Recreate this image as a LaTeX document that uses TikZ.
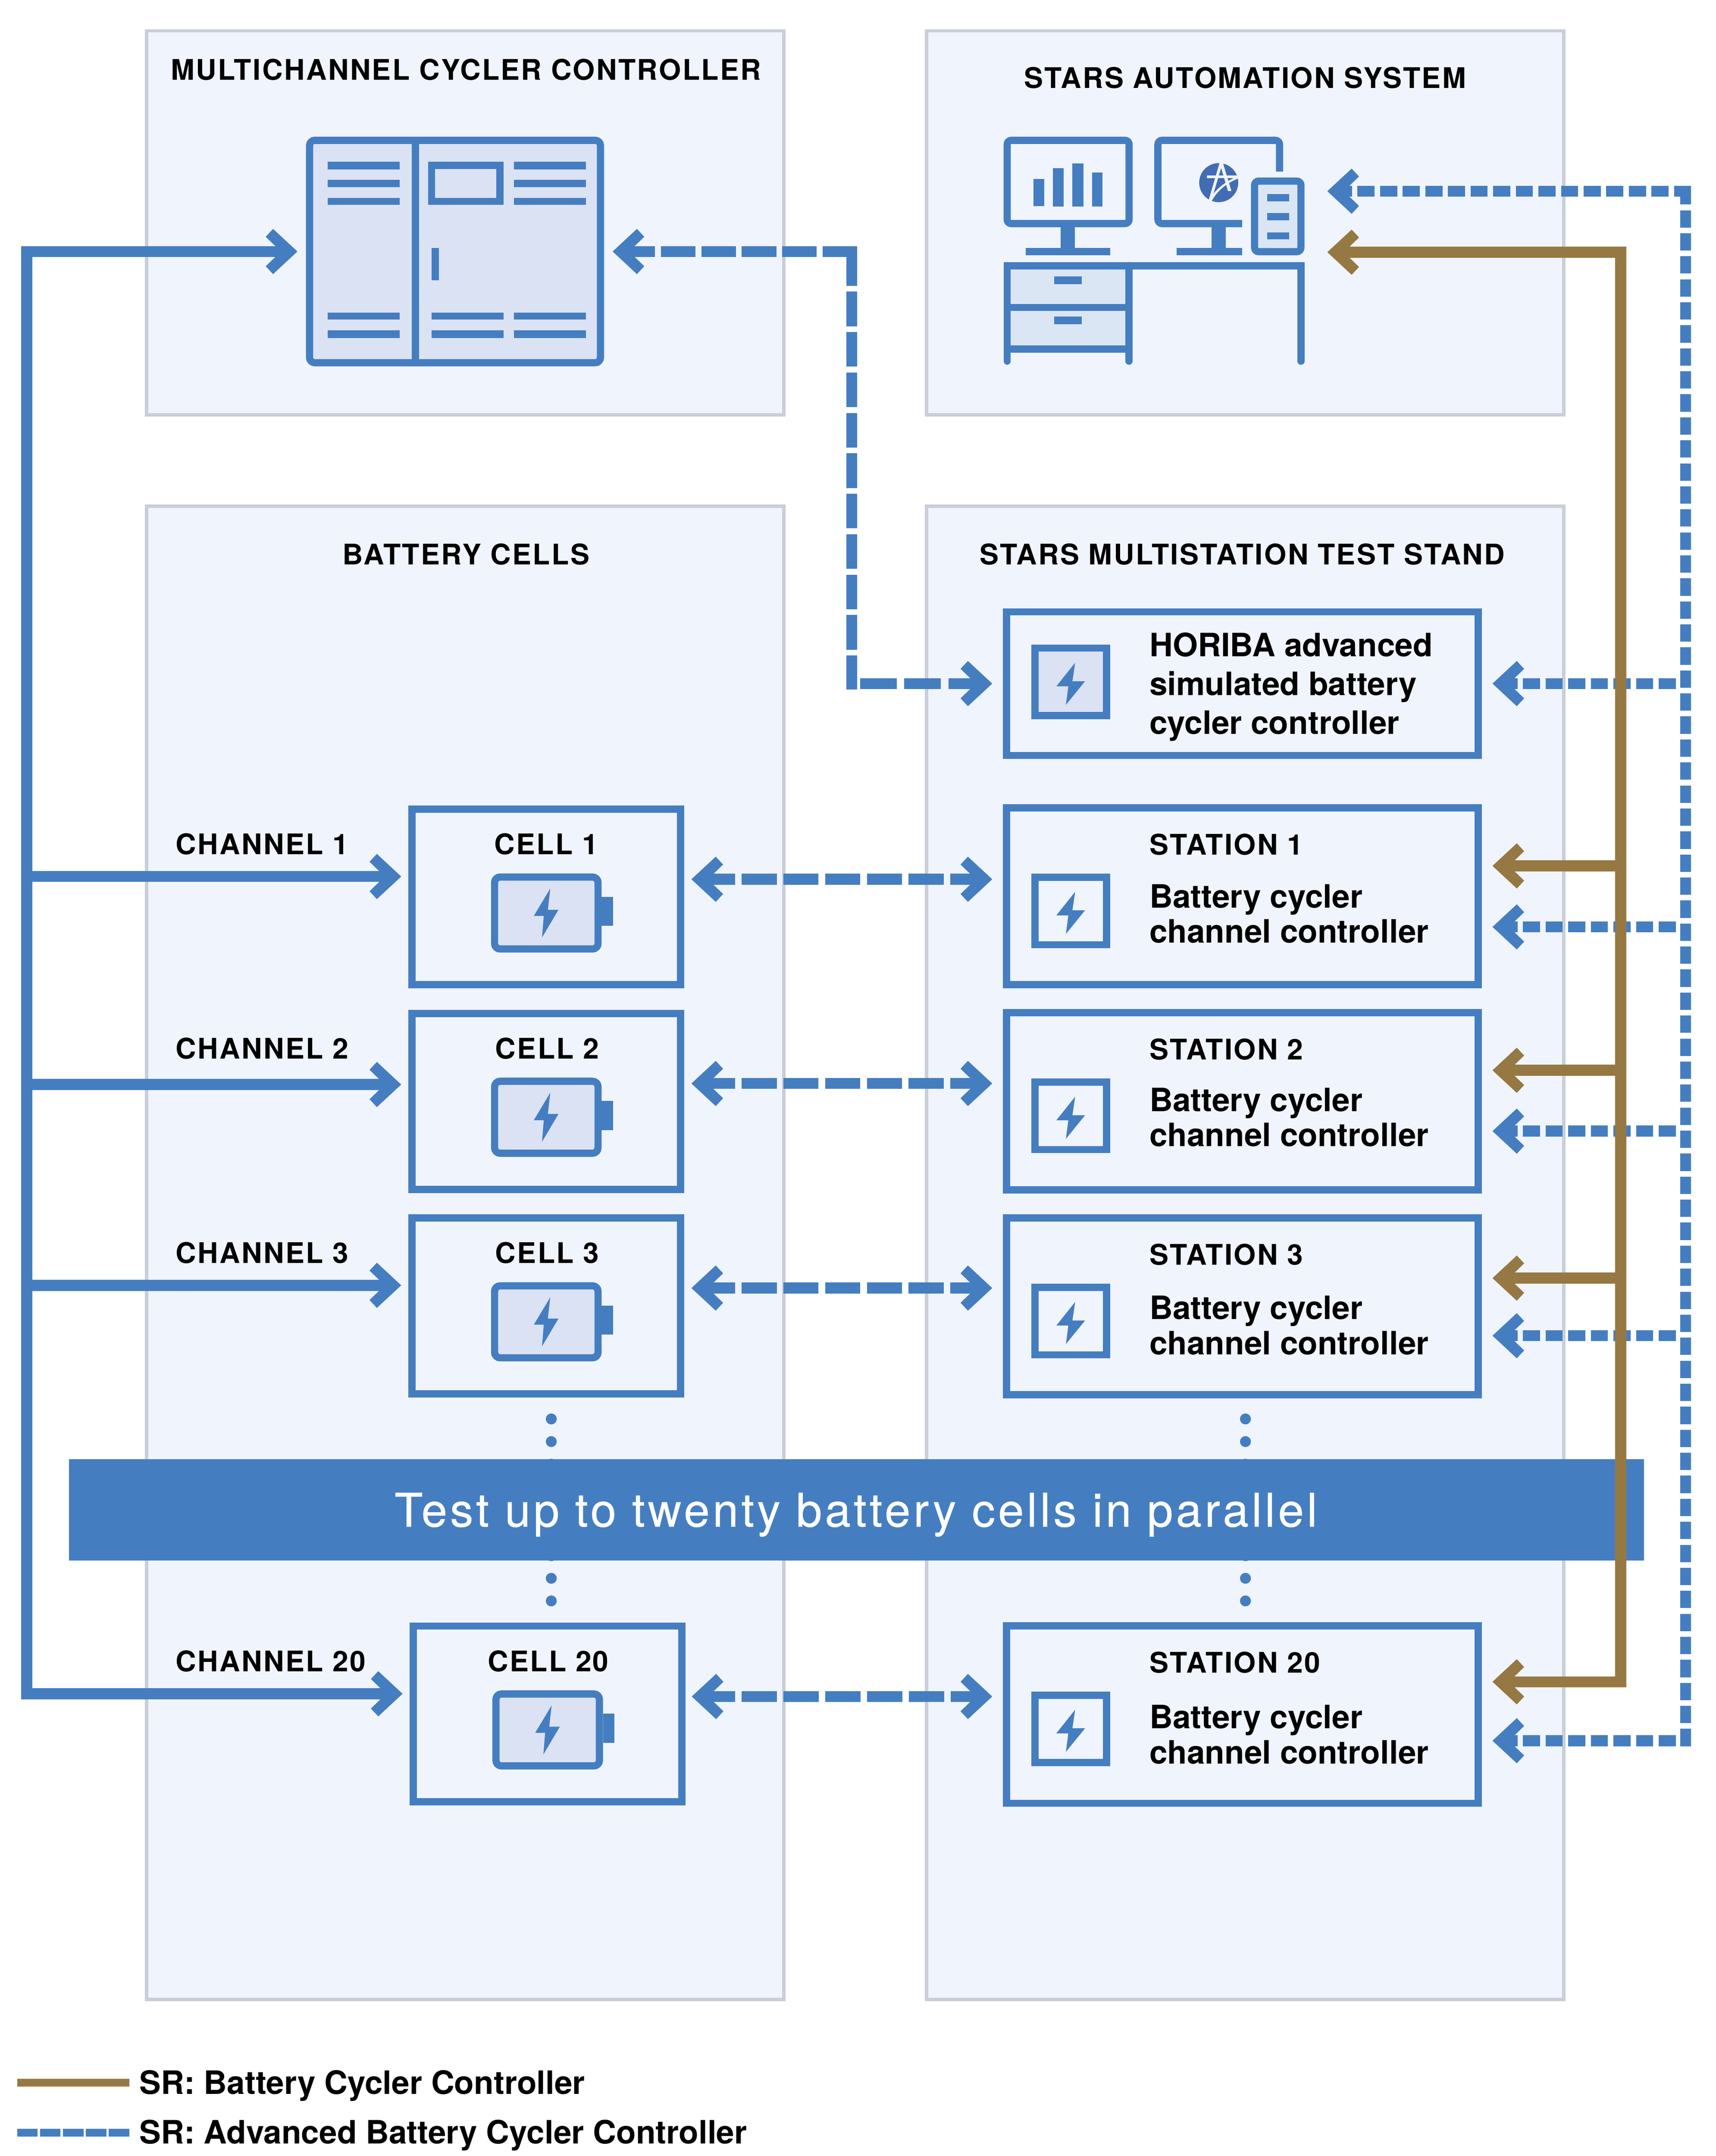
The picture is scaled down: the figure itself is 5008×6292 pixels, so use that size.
\documentclass[tikz,border=0pt]{standalone}
\usepackage{fontspec}
\setmainfont{TeX Gyre Heros}
\newfontfamily\capsfam[LetterSpace=5]{TeX Gyre Heros}
\newfontfamily\banfam[LetterSpace=6.5,FakeBold=0.6]{TeX Gyre Heros}
\usetikzlibrary{arrows.meta}
\definecolor{cblue}{HTML}{457EC0}
\definecolor{cbrown}{HTML}{967942}
\definecolor{cpanel}{HTML}{F0F4FC}
\definecolor{cedge}{HTML}{C9CED9}
\definecolor{cicon}{HTML}{DBE2F3}
\definecolor{cdesk}{HTML}{DBE6F5}
\definecolor{clogo}{HTML}{426CB4}
\pgfdeclarearrow{
  name=Chev,
  setup code={
    \pgfarrowssettipend{0pt}
    \pgfarrowssetlineend{-45pt}
    \pgfarrowssetvisualbackend{-60pt}
    \pgfarrowssetbackend{-92.5pt}
  },
  drawing code={
    \pgfpathmoveto{\pgfqpoint{0pt}{0pt}}
    \pgfpathlineto{\pgfqpoint{-71pt}{66pt}}
    \pgfpathlineto{\pgfqpoint{-92.5pt}{43pt}}
    \pgfpathlineto{\pgfqpoint{-48pt}{0pt}}
    \pgfpathlineto{\pgfqpoint{-92.5pt}{-43pt}}
    \pgfpathlineto{\pgfqpoint{-71pt}{-66pt}}
    \pgfpathclose
    \pgfusepathqfill
  }
}
\tikzset{
  panelbox/.style={draw=cedge,fill=cpanel,line width=10pt,inner sep=0pt,outer sep=0pt},
  unitbox/.style={draw=cblue,line width=21pt,inner sep=0pt,outer sep=0pt},
  iconbox/.style={draw=cblue,line width=21pt,inner sep=0pt,outer sep=0pt,fill=cicon},
  title/.style={font=\capsfam\bfseries\fontsize{83pt}{83pt}\selectfont,anchor=base,inner sep=0pt,outer sep=0pt},
  capl/.style={font=\capsfam\bfseries\fontsize{83pt}{83pt}\selectfont,anchor=base west,inner sep=0pt,outer sep=0pt},
  body/.style={font=\bfseries\fontsize{94pt}{94pt}\selectfont,anchor=base west,inner sep=0pt,outer sep=0pt},
  solidblue/.style={draw=cblue,line width=32pt,line join=miter},
  solidbrown/.style={draw=cbrown,line width=32pt,line join=miter},
  bigdash/.style={draw=cblue,line width=32pt,dash pattern=on 103pt off 19pt},
  smalldash/.style={draw=cblue,line width=32pt,dash pattern=on 50pt off 16pt}
}
\newcommand{\bk}[4]{\fill[cblue] (#1,#2) rectangle (#3,#4);}
\begin{document}
\begin{tikzpicture}[x=1pt,y=-1pt]
\useasboundingbox (0,0) rectangle (5008,6292);
\fill[white] (0,0) rectangle (5008,6292);

% panels
\node[panelbox,minimum width=1860pt,minimum height=1120pt] (panA) at (1358,650) {};
\node[panelbox,minimum width=1860pt,minimum height=1120pt] (panB) at (3634,650) {};
\node[panelbox,minimum width=1860pt,minimum height=4358pt] (panC) at (1358,3656) {};
\node[panelbox,minimum width=1860pt,minimum height=4358pt] (panD) at (3634,3656) {};
\node[title] (tA) at (1360,233) {MULTICHANNEL CYCLER CONTROLLER};
\node[title] (tB) at (3634,257) {STARS AUTOMATION SYSTEM};
\node[title] (tC) at (1360,1648) {BATTERY CELLS};
\node[title] (tD) at (3626,1648) {STARS MULTISTATION TEST STAND};

% cabinet icon
\node[iconbox,rounded corners=15pt,minimum width=849pt,minimum height=649pt] (cabinet) at (1328,734) {};
\bk{1202}{400}{1223}{1068}
\foreach \yy/\yb in {472/494,524.5/546,577/598,912/933,964.5/986}{
  \bk{956}{\yy}{1166.5}{\yb}
  \bk{1500.5}{\yy}{1710}{\yb}
}
\foreach \yy/\yb in {912/933,964.5/986}{ \bk{1260}{\yy}{1470}{\yb} }
\draw[cblue,line width=21pt] (1259.5,482.5) rectangle (1459.5,587.5);
\bk{1260}{723}{1281}{818}

% desk icon
\draw[cblue,line width=21pt,rounded corners=12pt] (2939.5,409.5) rectangle (3295.5,652.5);
\bk{3096}{660}{3137.5}{723}
\bk{2994}{723}{3240}{745}
\bk{3016}{522}{3048}{601}
\bk{3073}{491}{3105}{602.5}
\bk{3130}{477}{3162}{602.5}
\bk{3187}{503}{3218}{602.5}
\draw[cblue,line width=21pt,rounded corners=12pt] (3379.5,409.5) rectangle (3734.5,652.5);
\bk{3536}{660}{3577}{723}
\bk{3434}{723}{3740}{745}
% logo
\fill[clogo] (3557,533) circle[radius=57pt];
\begin{scope}[shift={(3450,440)},x=0.3333pt,y=-0.3333pt]
  \fill[cpanel] (330,100) -- (356,100) -- (432,352) -- (402,352) -- (342,150) -- (275,375) -- (258,442) -- (233,432) -- cycle;
  \fill[cpanel] (218,216) -- (490,216) -- (495,238) -- (218,240) -- cycle;
  \fill[cpanel] (275,375) .. controls (330,310) and (400,260) .. (490,222) -- (496,240) .. controls (410,275) and (320,330) .. (258,442) -- (233,432) -- cycle;
\end{scope}
% tablet
\fill[cpanel] (3626,501) rectangle (3830,760);
\draw[draw=cblue,fill=cdesk,line width=21pt,rounded corners=12pt] (3661.5,528.5) rectangle (3797,734.5);
\bk{3698}{566}{3762}{588}
\bk{3698}{622}{3762}{643}
\bk{3698}{678}{3762}{699}
% desk
\fill[cdesk] (2950,787) rectangle (3284,1008);
\bk{2929}{765}{3807.5}{787}
\bk{2929}{887}{3306}{907}
\bk{2929}{1008}{3306}{1029}
\draw[cblue,line width=21pt,line cap=round] (2939.5,775) -- (2939.5,1054);
\draw[cblue,line width=21pt,line cap=round] (3295,775) -- (3295,1054);
\draw[cblue,line width=21pt,line cap=round] (3797,775) -- (3797,1054);
\bk{3077}{807}{3157}{829}
\bk{3077}{924}{3157}{946}

% battery cells
\coordinate (busL) at (78,734);
\foreach \n/\xx/\tp/\hh/\chy/\lky/\cx/\dt in {1/1192/2351/533/2558/2566/1594/31.5,2/1192/2947/535/3165/3162/1597/31.5,3/1192/3544/534/3751/3759/1597/31.5,20/1196/4735/534/4943/4951/1600/28.5}{
  \begin{scope}[shift={(\xx,\tp)}]
    \pgfmathsetmacro{\ww}{805-21}
    \pgfmathsetmacro{\mh}{\hh-21}
    \pgfmathsetmacro{\my}{\hh/2}
    \node[unitbox,minimum width=\ww pt,minimum height=\mh pt] (cell\n) at (402.5,\my) {};
    \bk{564}{266}{597}{351}
    \draw[draw=cblue,fill=cicon,line width=21pt,rounded corners=16pt] (251.5,208.5) rectangle (553.5,418.5);
    \fill[cblue] (414,242) -- (366,322) -- (395,322) -- (390,385) -- (438,304) -- (407,304) -- cycle;
  \end{scope}
  \node[title] (cellt\n) at (\cx,\tp+143) {CELL \n};
  \node[capl] (chan\n) at (513,\tp+143) {CHANNEL \n};
  \coordinate (chy\n) at (0,\chy);
  \coordinate (lky\n) at (0,\lky);
  \coordinate (chtip\n) at ([xshift=-31.5pt]cell\n.west);
  \coordinate (lktipa\n) at ([xshift=\dt pt]cell\n.east);
}

% stations
\node[unitbox,minimum width=1377pt,minimum height=419pt] (horiba) at (3626,1995) {};
\node[iconbox,minimum width=209pt,minimum height=197pt] (hicon) at (3125,1990) {};
\fill[cblue] (3138,1934) -- (3083,2003) -- (3118,2003) -- (3111,2057) -- (3167,1988) -- (3130,1988) -- cycle;
\node[body] (h1) at (3355,1916) {HORIBA advanced};
\node[body] (h2) at (3355,2029) {simulated battery};
\node[body] (h3) at (3355,2142) {cycler controller};

\foreach \n/\tp/\hh/\bry/\bly/\dy in {1/2347/537/2527/2705/302,2/2945/538/3123.5/3301/298,3/3544/537/3730/3898/306,20/4734/539/4908/5080/310}{
  \begin{scope}[shift={(2925,\tp)}]
    \pgfmathsetmacro{\mh}{\hh-21}
    \pgfmathsetmacro{\my}{\hh/2}
    \node[unitbox,minimum width=1377pt,minimum height=\mh pt] (stat\n) at (701,\my) {};
    \node[unitbox,minimum width=209pt,minimum height=197pt] (sicon\n) at (200,311.5) {};
    \fill[cblue] (213,255.5) -- (158,324.5) -- (193,324.5) -- (186,378.5) -- (242,309.5) -- (205,309.5) -- cycle;
  \end{scope}
  \node[capl] (stl\n) at (3355,\tp+148) {STATION \n};
  \node[body] (sta\n) at (3355,\tp+\dy) {Battery cycler};
  \node[body] (stb\n) at (3355,\tp+\dy+103) {channel controller};
  \coordinate (bry\n) at (0,\bry);
  \coordinate (bly\n) at (0,\bly);
  \coordinate (wtip\n) at ([xshift=-41.5pt]stat\n.west);
  \coordinate (etip\n) at ([xshift=41.5pt]stat\n.east);
}
\coordinate (hwest) at ([xshift=-41.5pt]horiba.west);
\coordinate (heast) at ([xshift=41.5pt]horiba.east);
\coordinate (hy) at (0,1995);

% solid blue bus and channels
\draw[solidblue,{Chev}-{Chev}] (chtip20 |- chy20) -- (busL |- chy20) -- (busL) -- ([xshift=-35.5pt]cabinet.west);
\foreach \n in {1,2,3}{
  \draw[solidblue,-{Chev}] (busL |- chy\n) -- (chtip\n |- chy\n);
}
% cell to station links
\foreach \n in {1,2,3,20}{
  \draw[bigdash,dash phase=21pt,{Chev}-{Chev}] (lktipa\n |- lky\n) -- (wtip\n |- lky\n);
}
% cabinet to HORIBA, advanced controller
\coordinate (cabE) at ([xshift=35.5pt]cabinet.east);
\coordinate (corA) at (2502,734);
\coordinate (corB) at (2486,733);
\coordinate (corC) at (2486,2012);
\coordinate (corD) at (2510,1995);
\draw[draw=cblue,line width=32pt,dash pattern=on 101pt off 17pt,-{Chev}] (corA) -- (cabE);
\draw[draw=cblue,line width=32pt,dash pattern=on 101pt off 17pt] (corB) -- (corC);
\draw[draw=cblue,line width=32pt,dash pattern=on 107pt off 22pt,-{Chev}] (corD) -- (hwest |- hy);

% right dashed bus
\coordinate (deskB) at (3874,558);
\coordinate (deskC) at (3874,736);
\coordinate (bR) at (4920,5096);
\coordinate (bRt) at (4920,546);
\coordinate (bRc) at (4936,558);
\coordinate (bRh) at (4891,0);
\draw[draw=cblue,line width=32pt,dash pattern=on 50.6pt off 16.55pt] (bR) -- (bRt);
\draw[smalldash,-{Chev}] (bRc) -- (deskB);
\draw[smalldash,-{Chev}] (bRh |- hy) -- (heast |- hy);
\foreach \n in {1,2,3,20}{
  \draw[smalldash,-{Chev}] (bRh |- bly\n) -- (etip\n |- bly\n);
}

% dots and banner
\foreach \yy in {4141,4207,4273,4540,4606,4672}{
  \fill[cblue] (1609,\yy) circle[radius=16pt];
  \fill[cblue] (3635,\yy) circle[radius=16pt];
}
\node[fill=cblue,inner sep=0pt,outer sep=0pt,minimum width=4597pt,minimum height=295pt] (banner) at (2499.5,4406.5) {};
\node[font=\banfam\fontsize{135pt}{135pt}\selectfont,text=white,anchor=base,inner sep=0pt] (bantext) at (2498,4455) {Test up to twenty battery cells in parallel};

% brown bus
\coordinate (brT) at (4730,736);
\coordinate (brB) at (4730,4908);
\draw[solidbrown,{Chev}-{Chev}] (etip20 |- brB) -- (brB) -- (brT) -- (deskC);
\foreach \n in {1,2,3}{
  \draw[solidbrown,-{Chev}] (brB |- bry\n) -- (etip\n |- bry\n);
}

% legend
\coordinate (la) at (50,6078); \coordinate (lb) at (377,6078);
\coordinate (lc) at (50,6224); \coordinate (ld) at (377,6224);
\draw[draw=cbrown,line width=22pt] (la) -- (lb);
\draw[draw=cblue,line width=22pt,dash pattern=on 60pt off 6.75pt] (lc) -- (ld);
\node[body] (lt1) at (407,6111) {SR: Battery Cycler Controller};
\node[body] (lt2) at (407,6256) {SR: Advanced Battery Cycler Controller};
\end{tikzpicture}
\end{document}
